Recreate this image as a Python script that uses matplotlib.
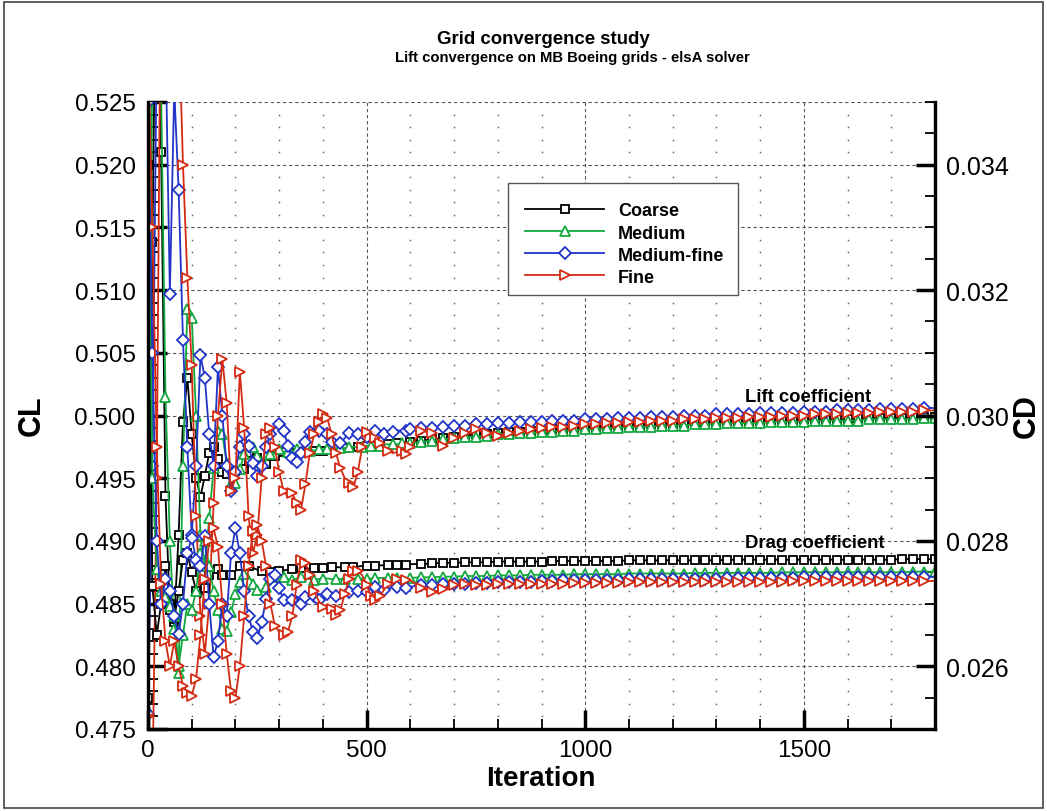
import numpy as np
import matplotlib.pyplot as plt
from matplotlib.ticker import MultipleLocator, FormatStrFormatter
from matplotlib.patches import Rectangle

plt.rcParams['font.family'] = ['Liberation Sans', 'DejaVu Sans']

# iterations: every 10 up to 600, then every 25
iters = np.array(list(range(0, 601, 10)) + list(range(625, 1801, 25)))

grids = ["Coarse", "Medium", "Medium-fine", "Fine"]
colors = ["black", "#12a83e", "#2233c8", "#d42a12"]
markers = ["s", "^", "D", ">"]
msizes = [6.2, 7.0, 6.0, 7.0]

# ---- lift coefficient ----
cl_coarse = [
    0.4775, 0.5138, 0.5420, 0.5210, 0.4936, 0.4845, 0.4835, 0.4905, 0.4995, 0.5030,
    0.4985, 0.4950, 0.4935, 0.4952, 0.4970, 0.4975, 0.4965, 0.4955, 0.4953, 0.4958,
    0.4956, 0.4954, 0.4957, 0.4964, 0.4968, 0.4966, 0.4962, 0.4961, 0.4964, 0.4968,
    0.4970, 0.4971, 0.4970, 0.4970, 0.4971, 0.4971, 0.4971, 0.4972, 0.4972, 0.4972,
    0.4972, 0.4973, 0.4973, 0.4973, 0.4974, 0.4974, 0.4974, 0.4975, 0.4975, 0.4975,
    0.4976, 0.4976, 0.4976, 0.4977, 0.4977, 0.4977, 0.4978, 0.4978, 0.4978, 0.4979,
    0.4979,
    0.4980, 0.4981, 0.4982, 0.4983, 0.4984, 0.4985, 0.4985, 0.4986, 0.4987, 0.4987,
    0.4988, 0.4988, 0.4989, 0.4989, 0.4990, 0.4990, 0.4991, 0.4991, 0.4992, 0.4992,
    0.4992, 0.4993, 0.4993, 0.4993, 0.4994, 0.4994, 0.4994, 0.4995, 0.4995, 0.4995,
    0.4995, 0.4996, 0.4996, 0.4996, 0.4996, 0.4997, 0.4997, 0.4997, 0.4997, 0.4997,
    0.4998, 0.4998, 0.4998, 0.4998, 0.4998, 0.4999, 0.4999, 0.4999,
]
cl_medium = [
    0.4765, 0.5300, 0.5520, 0.5260, 0.5015, 0.4900, 0.4830, 0.4795, 0.4960, 0.5085,
    0.5078, 0.5000, 0.4905, 0.4880, 0.4918, 0.4958, 0.4988, 0.4985, 0.4962, 0.4945,
    0.4946, 0.4957, 0.4969, 0.4977, 0.4975, 0.4968, 0.4962, 0.4964, 0.4969, 0.4973,
    0.4973, 0.4971, 0.4971, 0.4972, 0.4973, 0.4973, 0.4972, 0.4972, 0.4972, 0.4973,
    0.4973, 0.4973, 0.4973, 0.4974, 0.4974, 0.4974, 0.4975, 0.4975, 0.4975, 0.4975,
    0.4976, 0.4976, 0.4976, 0.4976, 0.4977, 0.4977, 0.4977, 0.4977, 0.4978, 0.4978,
    0.4978,
    0.4979, 0.4980, 0.4981, 0.4982, 0.4983, 0.4983, 0.4984, 0.4985, 0.4985, 0.4986,
    0.4986, 0.4987, 0.4987, 0.4988, 0.4988, 0.4989, 0.4989, 0.4990, 0.4990, 0.4991,
    0.4991, 0.4991, 0.4992, 0.4992, 0.4992, 0.4993, 0.4993, 0.4993, 0.4994, 0.4994,
    0.4994, 0.4994, 0.4995, 0.4995, 0.4995, 0.4995, 0.4996, 0.4996, 0.4996, 0.4996,
    0.4996, 0.4997, 0.4997, 0.4997, 0.4997, 0.4997, 0.4998, 0.4998,
]
cl_medfine = [
    0.4762, 0.4960, 0.5300, 0.5520, 0.5300, 0.5097, 0.5260, 0.5180, 0.5060, 0.4975,
    0.4905, 0.4960, 0.5048, 0.5030, 0.4985, 0.4960, 0.5039, 0.5000, 0.4960, 0.4940,
    0.4955, 0.4975, 0.4985, 0.4976, 0.4962, 0.4952, 0.4960, 0.4975, 0.4985, 0.4990,
    0.4993, 0.4988, 0.4976, 0.4966, 0.4963, 0.4970, 0.4979, 0.4987, 0.4990, 0.4988,
    0.4990, 0.4985, 0.4979, 0.4976, 0.4978, 0.4982, 0.4986, 0.4987, 0.4985, 0.4982,
    0.4983, 0.4986, 0.4988, 0.4986, 0.4985, 0.4986, 0.4987, 0.4988, 0.4988, 0.4988,
    0.4989,
    0.4990, 0.4990, 0.4991, 0.4992, 0.4992, 0.4993, 0.4993, 0.4994, 0.4994, 0.4995,
    0.4995, 0.4995, 0.4996, 0.4996, 0.4996, 0.4997, 0.4997, 0.4997, 0.4998, 0.4998,
    0.4998, 0.4999, 0.4999, 0.4999, 0.5000, 0.5000, 0.5000, 0.5001, 0.5001, 0.5001,
    0.5001, 0.5002, 0.5002, 0.5002, 0.5002, 0.5003, 0.5003, 0.5003, 0.5004, 0.5004,
    0.5004, 0.5004, 0.5005, 0.5005, 0.5005, 0.5005, 0.5006, 0.5006,
]
cl_fine = [
    0.4760, 0.4700, 0.4950, 0.5400, 0.5620, 0.5580, 0.5440, 0.5320, 0.5200, 0.5110,
    0.5040, 0.4920, 0.4840, 0.4810, 0.4850, 0.4930, 0.5000, 0.5045, 0.5010, 0.4940,
    0.4950, 0.5035, 0.4990, 0.4920, 0.4890, 0.4905, 0.4950, 0.4985, 0.4990, 0.4975,
    0.4955, 0.4940, 0.4935, 0.4938, 0.4930, 0.4925, 0.4945, 0.4970, 0.4985, 0.4995,
    0.5001, 0.4998, 0.4985, 0.4970, 0.4958, 0.4950, 0.4946, 0.4943, 0.4955, 0.4975,
    0.4987, 0.4986, 0.4982, 0.4978, 0.4974, 0.4972, 0.4970, 0.4971, 0.4972, 0.4969,
    0.4975,
    0.4988, 0.4986, 0.4976, 0.4982, 0.4986, 0.4989, 0.4986, 0.4984, 0.4986, 0.4988,
    0.4989, 0.4990, 0.4991, 0.4991, 0.4992, 0.4993, 0.4993, 0.4994, 0.4994, 0.4995,
    0.4995, 0.4996, 0.4996, 0.4996, 0.4997, 0.4997, 0.4997, 0.4998, 0.4998, 0.4998,
    0.4999, 0.4999, 0.4999, 0.5000, 0.5000, 0.5000, 0.5001, 0.5001, 0.5001, 0.5002,
    0.5002, 0.5002, 0.5003, 0.5003, 0.5003, 0.5003, 0.5004, 0.5004,
]

# ---- drag coefficient ----
cd_coarse = [
    0.03400, 0.02728, 0.02650, 0.02700, 0.02760, 0.02700, 0.02675, 0.02720, 0.02770, 0.02780,
    0.02750, 0.02720, 0.02710, 0.02725, 0.02745, 0.02760, 0.02755, 0.02745, 0.02740, 0.02745,
    0.02752, 0.02760, 0.02762, 0.02760, 0.02757, 0.02754, 0.02752, 0.02750, 0.02750, 0.02751,
    0.02752, 0.02753, 0.02754, 0.02755, 0.02755, 0.02756, 0.02756, 0.02756, 0.02757, 0.02757,
    0.02757, 0.02758, 0.02758, 0.02758, 0.02758, 0.02759, 0.02759, 0.02759, 0.02759, 0.02760,
    0.02760, 0.02760, 0.02760, 0.02761, 0.02761, 0.02761, 0.02762, 0.02762, 0.02762, 0.02762,
    0.02763,
    0.02763, 0.02764, 0.02765, 0.02765, 0.02766, 0.02766, 0.02766, 0.02767, 0.02767, 0.02767,
    0.02767, 0.02767, 0.02768, 0.02768, 0.02768, 0.02768, 0.02768, 0.02768, 0.02768, 0.02769,
    0.02769, 0.02769, 0.02769, 0.02769, 0.02769, 0.02769, 0.02769, 0.02769, 0.02770, 0.02770,
    0.02770, 0.02770, 0.02770, 0.02770, 0.02770, 0.02770, 0.02770, 0.02770, 0.02770, 0.02770,
    0.02770, 0.02770, 0.02770, 0.02770, 0.02771, 0.02771, 0.02771, 0.02771,
]
cd_medium = [
    0.03500, 0.02900, 0.02755, 0.02720, 0.02710, 0.02696, 0.02680, 0.02600, 0.02650, 0.02700,
    0.02690, 0.02720, 0.02780, 0.02800, 0.02760, 0.02720, 0.02690, 0.02660, 0.02657, 0.02686,
    0.02715, 0.02735, 0.02748, 0.02745, 0.02732, 0.02722, 0.02720, 0.02726, 0.02735, 0.02742,
    0.02744, 0.02742, 0.02739, 0.02738, 0.02740, 0.02742, 0.02741, 0.02739, 0.02738, 0.02739,
    0.02740, 0.02740, 0.02739, 0.02739, 0.02739, 0.02740, 0.02740, 0.02740, 0.02740, 0.02740,
    0.02740, 0.02740, 0.02741, 0.02741, 0.02741, 0.02741, 0.02741, 0.02741, 0.02741, 0.02741,
    0.02741,
    0.02742, 0.02742, 0.02743, 0.02743, 0.02744, 0.02744, 0.02744, 0.02745, 0.02745, 0.02745,
    0.02746, 0.02746, 0.02746, 0.02746, 0.02747, 0.02747, 0.02747, 0.02747, 0.02747, 0.02748,
    0.02748, 0.02748, 0.02748, 0.02748, 0.02748, 0.02749, 0.02749, 0.02749, 0.02749, 0.02749,
    0.02749, 0.02749, 0.02749, 0.02750, 0.02750, 0.02750, 0.02750, 0.02750, 0.02750, 0.02750,
    0.02750, 0.02750, 0.02750, 0.02750, 0.02750, 0.02751, 0.02751, 0.02751,
]
cd_medfine = [
    0.03500, 0.03100, 0.02800, 0.02700, 0.02740, 0.02720, 0.02680, 0.02651, 0.02700, 0.02780,
    0.02805, 0.02770, 0.02760, 0.02808, 0.02700, 0.02615, 0.02640, 0.02700, 0.02680, 0.02780,
    0.02820, 0.02780, 0.02720, 0.02680, 0.02655, 0.02645, 0.02670, 0.02707, 0.02740, 0.02745,
    0.02725, 0.02705, 0.02700, 0.02705, 0.02712, 0.02700, 0.02710, 0.02718, 0.02712, 0.02705,
    0.02710, 0.02715, 0.02718, 0.02712, 0.02708, 0.02712, 0.02718, 0.02722, 0.02720, 0.02716,
    0.02718, 0.02724, 0.02726, 0.02724, 0.02722, 0.02724, 0.02726, 0.02727, 0.02726, 0.02725,
    0.02727,
    0.02729, 0.02730, 0.02731, 0.02731, 0.02732, 0.02733, 0.02733, 0.02734, 0.02734, 0.02735,
    0.02735, 0.02736, 0.02736, 0.02737, 0.02737, 0.02737, 0.02738, 0.02738, 0.02738, 0.02739,
    0.02739, 0.02739, 0.02739, 0.02740, 0.02740, 0.02740, 0.02740, 0.02740, 0.02741, 0.02741,
    0.02741, 0.02741, 0.02741, 0.02741, 0.02741, 0.02742, 0.02742, 0.02742, 0.02742, 0.02742,
    0.02742, 0.02742, 0.02742, 0.02742, 0.02742, 0.02743, 0.02743, 0.02743,
]
cd_fine = [
    0.03600, 0.03300, 0.02950, 0.02731, 0.02640, 0.02600, 0.02640, 0.02600, 0.02569, 0.02558,
    0.02553, 0.02580, 0.02650, 0.02740, 0.02800, 0.02820, 0.02790, 0.02700, 0.02620, 0.02560,
    0.02550, 0.02600, 0.02680, 0.02760, 0.02815, 0.02825, 0.02800, 0.02760, 0.02700, 0.02665,
    0.02655, 0.02650, 0.02655, 0.02680, 0.02730, 0.02770, 0.02765, 0.02745, 0.02720, 0.02705,
    0.02695, 0.02690, 0.02692, 0.02682, 0.02690, 0.02715, 0.02740, 0.02752, 0.02752, 0.02745,
    0.02730, 0.02712, 0.02705, 0.02712, 0.02722, 0.02732, 0.02738, 0.02740, 0.02740, 0.02738,
    0.02737,
    0.02725, 0.02718, 0.02724, 0.02730, 0.02731, 0.02729, 0.02730, 0.02731, 0.02731, 0.02731,
    0.02732, 0.02732, 0.02732, 0.02732, 0.02733, 0.02733, 0.02733, 0.02733, 0.02733, 0.02734,
    0.02734, 0.02734, 0.02734, 0.02734, 0.02734, 0.02735, 0.02735, 0.02735, 0.02735, 0.02735,
    0.02735, 0.02735, 0.02735, 0.02735, 0.02736, 0.02736, 0.02736, 0.02736, 0.02736, 0.02736,
    0.02736, 0.02736, 0.02736, 0.02736, 0.02736, 0.02736, 0.02736, 0.02736,
]

cl_all = [cl_coarse, cl_medium, cl_medfine, cl_fine]
cd_all = [cd_coarse, cd_medium, cd_medfine, cd_fine]

fig = plt.figure(figsize=(10.47, 8.12), dpi=100)
fig.patches.append(Rectangle((0.004, 0.004), 0.992, 0.992, transform=fig.transFigure,
                             fill=False, lw=1.2, ec="#444"))
ax = fig.add_axes([148 / 1047, 1 - 730 / 812, 787 / 1047, 627 / 812])
ax2 = ax.twinx()

ax.set_xlim(0, 1800)
ax.set_ylim(0.475, 0.525)
ax2.set_ylim(0.025, 0.035)

ax.xaxis.set_major_locator(MultipleLocator(500))
ax.xaxis.set_minor_locator(MultipleLocator(100))
ax.yaxis.set_major_locator(MultipleLocator(0.005))
ax.yaxis.set_minor_locator(MultipleLocator(0.001))
ax.yaxis.set_major_formatter(FormatStrFormatter("%.3f"))
ax2.yaxis.set_major_locator(MultipleLocator(0.002))
ax2.yaxis.set_minor_locator(MultipleLocator(0.0005))
ax2.yaxis.set_major_formatter(FormatStrFormatter("%.3f"))

# grid: dashed majors, dots at the minor intersections
ax.grid(which="major", ls=(0, (3, 2.5)), color="#555555", lw=0.8)
gx = [v for v in ax.xaxis.get_minorticklocs() if 0 < v < 1800]
gy = [v for v in ax.yaxis.get_minorticklocs() if 0.475 < v < 0.525]
mx, my = np.meshgrid(gx, gy)
ax.plot(mx.ravel(), my.ravel(), ls="none", marker="s", ms=1.1, mew=0,
        color="#666666", zorder=0.5)

handles = []
for name, c, m, ms, cl, cd in zip(grids, colors, markers, msizes, cl_all, cd_all):
    h, = ax.plot(iters, cl, color=c, lw=1.3, marker=m, ms=ms, mfc="white", mec=c,
                 mew=1.3, markevery=0.0106, label=name)
    ax2.plot(iters, cd, color=c, lw=1.3, marker=m, ms=ms, mfc="white", mec=c,
             mew=1.3, markevery=0.0106)
    handles.append(h)
ax.set_axisbelow(True)

for a in (ax, ax2):
    a.spines["top"].set_visible(False)
    for s in ("left", "right", "bottom"):
        a.spines[s].set_linewidth(2.3)
ax.tick_params(which="major", direction="in", length=14, width=2.5, labelsize=17.5,
               pad=9, right=False, top=False)
ax.tick_params(which="minor", direction="in", length=7, width=1.3, right=False, top=False)
ax.tick_params(axis="x", pad=7)
ax2.tick_params(which="major", direction="in", length=14, width=2.5, labelsize=18, pad=8)
ax2.tick_params(which="minor", direction="in", length=7, width=1.3)

# legend box drawn separately so the entries can sit a bit lower inside it
ax2.add_patch(Rectangle((0.4574, 0.6922), 0.2923, 0.1786, transform=ax2.transAxes,
                        facecolor="white", edgecolor="#555555", lw=1.0, zorder=4))
leg = ax2.legend(handles=handles, loc="upper left", bbox_to_anchor=(0.4605, 0.8628),
                 prop={"weight": "bold", "size": 13}, frameon=False,
                 handlelength=4.4, handletextpad=0.75,
                 labelspacing=0.28, borderpad=0.8, borderaxespad=0)
leg.set_zorder(5)

ax.text(1365, 0.50154, "Lift coefficient", fontsize=13.3, fontweight="bold", va="center")
ax.text(1365, 0.48990, "Drag coefficient", fontsize=13.3, fontweight="bold", va="center")

fig.text(543 / 1047, 1 - 39 / 812, "Grid convergence study",
         ha="center", va="center", fontsize=13.4, fontweight="bold")
fig.text(572 / 1047, 1 - 58 / 812, "Lift convergence on MB Boeing grids - elsA solver",
         ha="center", va="center", fontsize=10.7, fontweight="bold")
fig.text(32 / 1047, 1 - 416 / 812, "CL", rotation=90, ha="center", va="center",
         fontsize=22, fontweight="bold")
fig.text(1027 / 1047, 1 - 416 / 812, "CD", rotation=90, ha="center", va="center",
         fontsize=22, fontweight="bold")
fig.text(541 / 1047, 1 - 779 / 812, "Iteration", ha="center", va="center",
         fontsize=20, fontweight="bold")

fig.savefig("out.png", dpi=100)
